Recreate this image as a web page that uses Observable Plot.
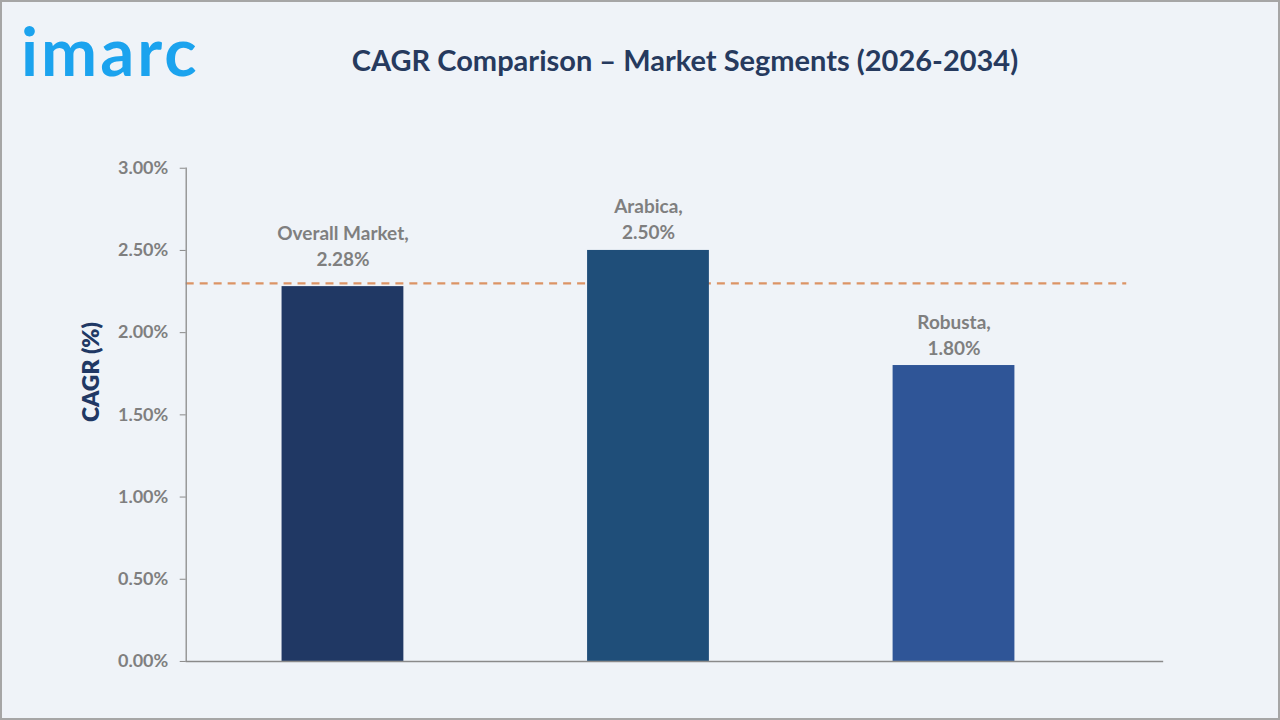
<!DOCTYPE html>
<html>
<head>
<meta charset="utf-8">
<script src="https://cdn.jsdelivr.net/npm/d3@7"></script>
<script src="https://cdn.jsdelivr.net/npm/@observablehq/plot@0.6"></script>
<style>
  html, body { margin: 0; padding: 0; }
  body { width: 1280px; height: 720px; overflow: hidden; background: #eff3f8; }
  #wrap { position: relative; width: 1280px; height: 720px; box-sizing: border-box; border: 2px solid #a6a6a6; background: #eff3f8; overflow: hidden; }
  #chart { position: absolute; left: -2px; top: -2px; }
  #logo { position: absolute; left: 19px; top: 12px; font-family: Lato, sans-serif; font-weight: 700; font-size: 67px; color: #1ba3ee; letter-spacing: 3px; line-height: 1.1; }
  #title { position: absolute; left: 0; width: 1366px; top: 40px; text-align: center; font-family: Lato, sans-serif; font-weight: 700; font-size: 29px; color: #263a5e; }
  #ylabel { position: absolute; left: 88px; top: 370px; transform: translate(-50%, -50%) rotate(-90deg); font-family: Lato, sans-serif; font-weight: 800; font-size: 23px; color: #203864; white-space: nowrap; }
</style>
</head>
<body>
<div id="wrap">
  <div id="chart"></div>
  <div id="logo">imarc</div>
  <div id="title">CAGR Comparison – Market Segments (2026-2034)</div>
  <div id="ylabel">CAGR (%)</div>
</div>
<script>
const segments = ["Overall Market", "Arabica", "Robusta"];
const cagr = [2.28, 2.50, 1.80];
const barColors = ["#203864", "#1f4e79", "#2f5597"];
const yTicks = [0, 0.5, 1.0, 1.5, 2.0, 2.5, 3.0];
const referenceLine = [2.30];

const data = segments.map((s, i) => ({segment: s, value: cagr[i], color: barColors[i]}));

const labelStyle = {
  x: "segment",
  y: "value",
  text: d => d.segment + ",\n" + d.value.toFixed(2) + "%",
  lineAnchor: "bottom",
  lineHeight: 1.37,
  fontSize: 19,
  fontWeight: 700,
  fill: "#7f7f7f"
};

const chart = Plot.plot({
  width: 1280,
  height: 720,
  marginLeft: 186,
  marginRight: 115,
  marginTop: 168,
  marginBottom: 58,
  style: {background: "transparent", fontFamily: "Lato, sans-serif", overflow: "visible"},
  x: {domain: segments, range: [186, 1113], paddingInner: 0.6, paddingOuter: 0.31, axis: null},
  y: {domain: [0, 3], axis: null},
  marks: [
    Plot.ruleY(referenceLine, {stroke: "#dc9465", strokeWidth: 2.2, strokeDasharray: "8,6", insetRight: 37}),
    Plot.barY(data, {x: "segment", y: "value", fill: "color"}),
    Plot.frame({anchor: "left", stroke: "#8a8a8a", strokeWidth: 1.3}),
    Plot.ruleY([0], {stroke: "#8a8a8a", strokeWidth: 1.5}),
    Plot.axisY({
      ticks: yTicks,
      tickSize: 6,
      tickPadding: 12,
      tickFormat: d => d.toFixed(2) + "%",
      fontSize: 18,
      fontWeight: 700,
      fill: "#7f7f7f",
      stroke: "#8a8a8a",
      label: null
    }),
    Plot.text(data.filter(d => d.segment === "Overall Market"), {...labelStyle, dy: -21}),
    Plot.text(data.filter(d => d.segment !== "Overall Market"), {...labelStyle, dy: -11})
  ]
});
document.getElementById("chart").appendChild(chart);
</script>
</body>
</html>
